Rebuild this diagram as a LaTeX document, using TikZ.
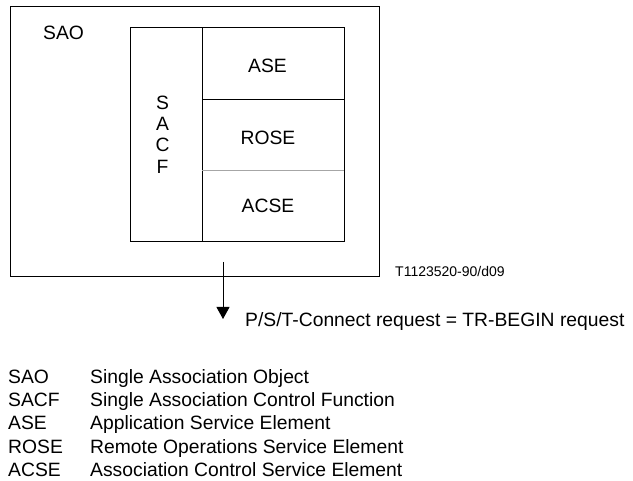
\documentclass[tikz,border=0pt]{standalone}
\usepackage{fontspec}
\setmainfont{Liberation Sans}
\usetikzlibrary{arrows.meta}
\tikzset{
  frame/.style={draw=black, line width=0.9pt, inner sep=0pt, anchor=north west},
  cell/.style={inner sep=0pt, anchor=north west},
  lbl/.style={inner sep=0pt, font=\fontsize{19.3}{22.3}\selectfont},
  stack/.style={inner sep=0pt, align=center, font=\fontsize{19.3}{21.3}\selectfont},
  code/.style={inner sep=0pt, font=\fontsize{14}{16}\selectfont},
  flow/.style={line width=0.9pt, -{Triangle[width=13pt,length=12pt]}}
}
\begin{document}
\begin{tikzpicture}[x=1pt,y=-1pt]
\useasboundingbox (0,0) rectangle (633,481);

% outer object
\node[frame, minimum width=369pt, minimum height=270pt] (sao) at (10,6) {};
\node[lbl, anchor=base west] (saolbl) at (43,39.3) {SAO};

% inner block with the control function and the service elements
\node[frame, minimum width=214pt, minimum height=214pt] (core) at (130,27) {};
\node[frame, minimum width=72pt, minimum height=214pt] (sacf) at (130,27) {};
\node[frame, minimum width=142pt, minimum height=72pt] (ase) at (202,27) {};
\node[cell, minimum width=142pt, minimum height=71pt] (rose) at (202,99) {};
\node[cell, minimum width=142pt, minimum height=71pt] (acse) at (202,170) {};
\draw[gray!70, line width=0.9pt] (rose.south west) -- (rose.south east);

\node[stack] (sacflbl) at (162.5,134.5) {S\\A\\C\\F};
\node[lbl, anchor=base] (aselbl) at (267.5,72.7) {ASE};
\node[lbl, anchor=base] (roselbl) at (268,144.5) {ROSE};
\node[lbl, anchor=base] (acselbl) at (268,212.5) {ACSE};

\node[code, anchor=base west] (ref) at (395,276.7) {T1123520-90/d09};

% outgoing primitive
\coordinate (astart) at (223,262);
\coordinate (aend) at (223,319);
\draw[flow] (astart) -- (aend);
\node[lbl, anchor=base west] (prim) at (245,326.7) {P/S/T-Connect request = TR-BEGIN request};

% abbreviations
\node[lbl, anchor=base west] (k1) at (8,383.3) {SAO};
\node[lbl, anchor=base west] (v1) at (90,383.3) {Single Association Object};
\node[lbl, anchor=base west] (k2) at (8,406.7) {SACF};
\node[lbl, anchor=base west] (v2) at (90,406.7) {Single Association Control Function};
\node[lbl, anchor=base west] (k3) at (8,430) {ASE};
\node[lbl, anchor=base west] (v3) at (90,430) {Application Service Element};
\node[lbl, anchor=base west] (k4) at (8,453.3) {ROSE};
\node[lbl, anchor=base west] (v4) at (90,453.3) {Remote Operations Service Element};
\node[lbl, anchor=base west] (k5) at (8,476.7) {ACSE};
\node[lbl, anchor=base west] (v5) at (90,476.7) {Association Control Service Element};
\end{tikzpicture}
\end{document}
